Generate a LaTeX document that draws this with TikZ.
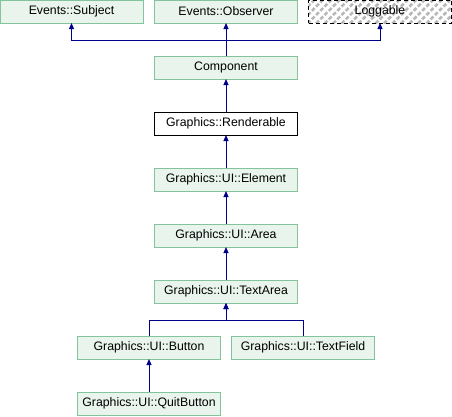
\documentclass[tikz,border=0pt]{standalone}
\usepackage{fontspec}
\setmainfont{Liberation Sans}
\usetikzlibrary{arrows.meta,patterns.meta}
\definecolor{boxfill}{RGB}{232,244,236}
\definecolor{boxline}{RGB}{132,196,156}
\definecolor{arrcol}{RGB}{0,0,139}
\tikzset{
  x=1pt,y=-1pt,
  cls/.style={draw=boxline,fill=boxfill,line width=1pt,minimum width=143pt,minimum height=23pt,inner sep=0pt,outer sep=0pt,font=\fontsize{12.3}{14}\selectfont},
  cur/.style={cls,draw=black,fill=white},
  ext/.style={cls,draw=black,dashed,dash pattern=on 4pt off 3pt,pattern={Lines[angle=45,distance=6pt,line width=2.6pt]},pattern color=black!28},
  inh/.style={draw=arrcol,line width=1pt,-{Triangle[length=6pt,width=5pt]}}
}
\begin{document}
\begin{tikzpicture}
\useasboundingbox (0,0) rectangle (452,416);
\node[cls] (subj) at (71.5,11.5) {Events::Subject};
\node[cls] (obs) at (226,11.5) {Events::Observer};
\node[ext] (log) at (380,11.5) {Loggable};
\node[cls] (comp) at (226,67.5) {Component};
\node[cur] (rend) at (226,123.5) {Graphics::Renderable};
\node[cls] (elem) at (226,179.5) {Graphics::UI::Element};
\node[cls] (area) at (226,235.5) {Graphics::UI::Area};
\node[cls] (tarea) at (226,291.5) {Graphics::UI::TextArea};
\node[cls] (btn) at (149,347.5) {Graphics::UI::Button};
\node[cls] (tfield) at (303,347.5) {Graphics::UI::TextField};
\node[cls] (quit) at (149,403.5) {Graphics::UI::QuitButton};
\coordinate (j1) at (226,40);
\coordinate (j2) at (226,320);
\draw[inh] (comp.north) -- (obs.south);
\draw[inh] (comp.north) |- (j1) -| (subj.south);
\draw[inh] (comp.north) |- (j1) -| (log.south);
\draw[inh] (rend.north) -- (comp.south);
\draw[inh] (elem.north) -- (rend.south);
\draw[inh] (area.north) -- (elem.south);
\draw[inh] (tarea.north) -- (area.south);
\draw[inh] (btn.north) |- (j2) -- (tarea.south);
\draw[inh] (tfield.north) |- (j2) -- (tarea.south);
\draw[inh] (quit.north) -- (btn.south);
\end{tikzpicture}
\end{document}
